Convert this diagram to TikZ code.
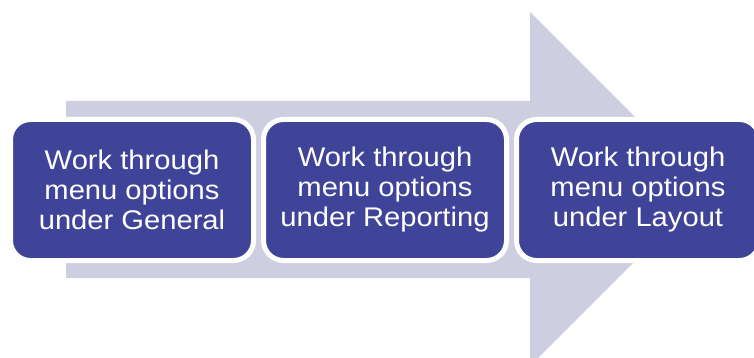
\documentclass[tikz,border=0pt]{standalone}
\usepackage{fontspec}
\setmainfont{Liberation Sans}
\newfontfamily\widesans[FakeStretch=1.08]{Liberation Sans}
\usepackage{xcolor}
\usetikzlibrary{positioning}
\definecolor{stepblue}{RGB}{63,68,153}
\definecolor{arrowgrey}{RGB}{205,207,224}
\tikzset{
  stepbox/.style={rectangle, rounded corners=20pt, fill=stepblue, draw=white,
    line width=5pt, outer sep=0pt, minimum width=243pt, minimum height=141pt,
    text=white, align=center, inner sep=0pt,
    font=\widesans\fontsize{27}{30}\selectfont}
}

\begin{document}
\begin{tikzpicture}[x=1pt,y=-1pt]
\useasboundingbox (0,0) rectangle (754,358);
\clip (0,0) rectangle (754,358);
% Background arrow
\fill[arrowgrey] (66,101) -- (530,101) -- (530,12) -- (707,189)
  -- (530,366) -- (530,278) -- (66,278) -- cycle;
% Steps
\node[stepbox] (gen) at (132,190) {Work through\\menu options\\under General};
\node[stepbox, right=10pt of gen] (rep) {Work through\\menu options\\under Reporting};
\node[stepbox, right=10pt of rep] (lay) {Work through\\menu options\\under Layout};
\end{tikzpicture}
\end{document}
